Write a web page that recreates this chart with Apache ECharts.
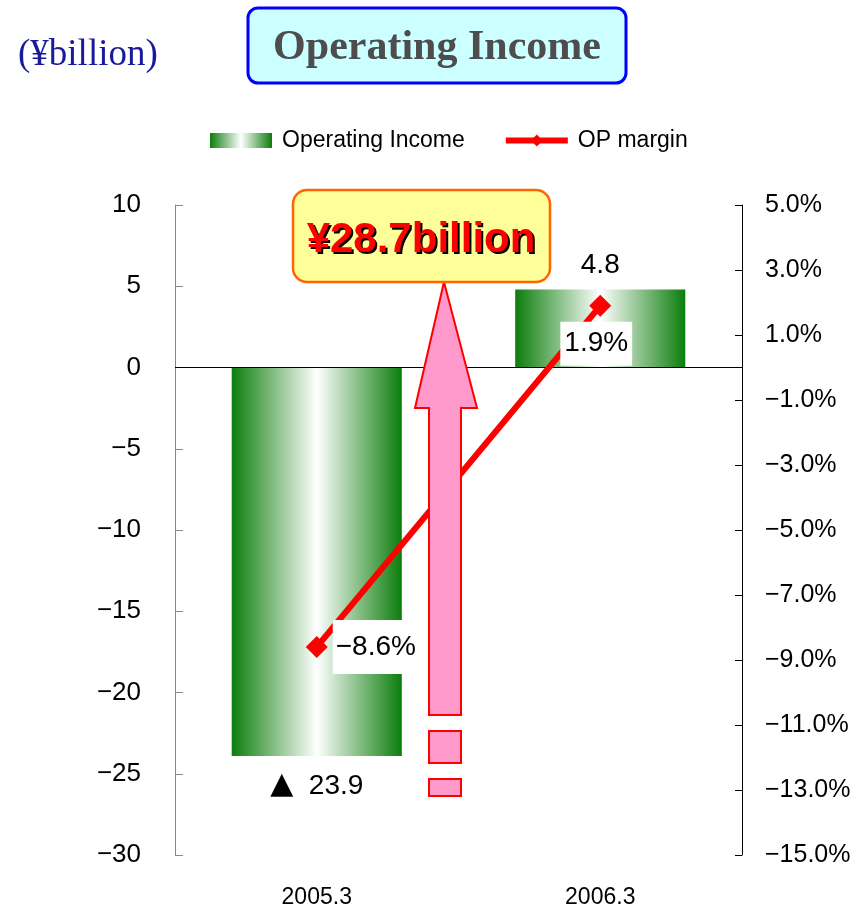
<!DOCTYPE html>
<html>
<head>
<meta charset="utf-8">
<title>Operating Income</title>
<script src="https://cdn.jsdelivr.net/npm/echarts/dist/echarts.min.js"></script>
<style>
  html, body { margin: 0; padding: 0; background: #fff; }
  #chart { width: 863px; height: 910px; }
</style>
</head>
<body>
<div id="chart"></div>
<script>
const categories = ['2005.3', '2006.3']
const operatingIncome = [-23.9, 4.8]
const opMargin = [-8.6, 1.9]

// axis ranges / tick steps
const incomeAxis = { min: -30, max: 10, interval: 5 }
const marginAxis = { min: -15, max: 5, interval: 2 }

const GREEN = '#0b7d0b'
const SANS = 'Liberation Sans, Arial, sans-serif'
const SERIF = 'Liberation Serif, Times New Roman, serif'

const minus = (s) => String(s).replace('-', '\u2212')

const barGradient = new echarts.graphic.LinearGradient(0, 0, 1, 0, [
  { offset: 0, color: GREEN },
  { offset: 0.5, color: '#ffffff' },
  { offset: 1, color: GREEN }
])

const chart = echarts.init(document.getElementById('chart'))

const option = {
  animation: false,
  backgroundColor: '#fff',
  grid: {
    left: 175,
    right: 121,
    top: 205,
    bottom: 55,
    outerBoundsMode: 'none'
  },
  legend: {
    left: 205,
    top: 124,
    itemWidth: 62,
    itemHeight: 15,
    itemGap: 38,
    textStyle: {
      fontFamily: SANS,
      fontSize: 23,
      color: '#000',
      padding: [0, 0, 0, 5]
    },
    data: [
      { name: 'Operating Income', icon: 'rect' },
      { name: 'OP margin', lineStyle: { width: 6, color: '#ff0000' } }
    ]
  },
  xAxis: {
    type: 'category',
    data: categories,
    axisLine: { show: false },
    axisTick: { show: false },
    axisLabel: {
      margin: 31,
      fontFamily: SANS,
      fontSize: 23,
      color: '#000'
    }
  },
  yAxis: [
    {
      type: 'value',
      position: 'left',
      min: incomeAxis.min,
      max: incomeAxis.max,
      interval: incomeAxis.interval,
      splitLine: { show: false },
      axisLine: { show: true, lineStyle: { color: '#888', width: 1 } },
      axisTick: { show: true, inside: true, length: 8, lineStyle: { color: '#888' } },
      axisLabel: {
        margin: 34,
        fontFamily: SANS,
        fontSize: 26,
        color: '#000',
        formatter: (v) => minus(v)
      }
    },
    {
      type: 'value',
      position: 'right',
      min: marginAxis.min,
      max: marginAxis.max,
      interval: marginAxis.interval,
      splitLine: { show: false },
      axisLine: { show: true, lineStyle: { color: '#000', width: 1 } },
      axisTick: { show: true, inside: true, length: 7, lineStyle: { color: '#000' } },
      axisLabel: {
        margin: 23,
        fontFamily: SANS,
        fontSize: 25,
        color: '#000',
        formatter: (v) => minus(v.toFixed(1)) + '%'
      }
    }
  ],
  series: [
    {
      name: 'Operating Income',
      type: 'bar',
      yAxisIndex: 0,
      barWidth: '60%',
      itemStyle: { color: barGradient },
      data: operatingIncome.map((v) => ({
        value: v,
        label: {
          show: true,
          position: v < 0 ? 'bottom' : 'top',
          distance: v < 0 ? 14 : 10,
          fontFamily: SANS,
          fontSize: 28,
          color: '#000',
          formatter: v < 0 ? '{tri|\u25B2}  ' + Math.abs(v) : String(v),
          rich: {
            tri: { fontFamily: 'DejaVu Sans', fontSize: 30, color: '#000', padding: [0, 0, 2, 0] }
          }
        }
      })),
      markLine: {
        silent: true,
        symbol: 'none',
        label: { show: false },
        lineStyle: { color: '#000', width: 1, type: 'solid' },
        data: [{ yAxis: 0 }]
      }
    },
    {
      name: 'OP margin',
      type: 'line',
      yAxisIndex: 1,
      symbol: 'diamond',
      symbolSize: 22,
      lineStyle: { color: '#ff0000', width: 6 },
      itemStyle: { color: '#ff0000' },
      z: 5,
      data: opMargin.map((v, i) => ({
        value: v,
        label: {
          show: true,
          position: i === 0 ? 'right' : 'bottom',
          offset: i === 0 ? [0, 0] : [-4, 0],
          distance: 5,
          fontFamily: SANS,
          fontSize: 28,
          color: '#000',
          backgroundColor: '#fff',
          padding: i === 0 ? [13, 3, 13, 3] : [8, 4, 8, 4],
          formatter: (p) => minus(p.value.toFixed(1)) + '%'
        }
      }))
    }
  ],
  graphic: [
    {
      type: 'text',
      left: 18,
      top: 37,
      z: 100,
      style: {
        text: '(\u00A5billion)',
        font: '37px ' + SERIF,
        fill: '#1a1a9c'
      }
    },
    {
      type: 'rect',
      z: 100,
      shape: { x: 248, y: 8, width: 378, height: 75, r: 10 },
      style: { fill: '#ccffff', stroke: '#0000ff', lineWidth: 3 }
    },
    {
      type: 'text',
      z: 101,
      x: 437,
      y: 48,
      style: {
        text: 'Operating Income',
        font: 'bold 42px ' + SERIF,
        fill: '#4d4d4d',
        align: 'center',
        verticalAlign: 'middle'
      }
    },
    // big upward arrow
    {
      type: 'polygon',
      z: 100,
      shape: {
        points: [[444, 282], [477, 408], [461, 408], [461, 715], [429, 715], [429, 408], [415, 408]]
      },
      style: { fill: '#ff99cc', stroke: '#ff0000', lineWidth: 2 }
    },
    {
      type: 'rect',
      z: 100,
      shape: { x: 429, y: 731, width: 32, height: 32 },
      style: { fill: '#ff99cc', stroke: '#ff0000', lineWidth: 2 }
    },
    {
      type: 'rect',
      z: 100,
      shape: { x: 429, y: 779, width: 32, height: 17 },
      style: { fill: '#ff99cc', stroke: '#ff0000', lineWidth: 2 }
    },
    // callout
    {
      type: 'rect',
      z: 102,
      shape: { x: 293, y: 190, width: 257, height: 92, r: 14 },
      style: { fill: '#ffff99', stroke: '#ff6600', lineWidth: 2.5 }
    },
    {
      type: 'text',
      z: 103,
      x: 423,
      y: 242,
      style: {
        text: '\u00A528.7billion',
        font: 'bold 42px ' + SANS,
        fill: '#000',
        align: 'center',
        verticalAlign: 'middle'
      }
    },
    {
      type: 'text',
      z: 104,
      x: 421,
      y: 240,
      style: {
        text: '\u00A528.7billion',
        font: 'bold 42px ' + SANS,
        fill: '#ff0000',
        align: 'center',
        verticalAlign: 'middle'
      }
    }
  ]
}

chart.setOption(option)
</script>
</body>
</html>
